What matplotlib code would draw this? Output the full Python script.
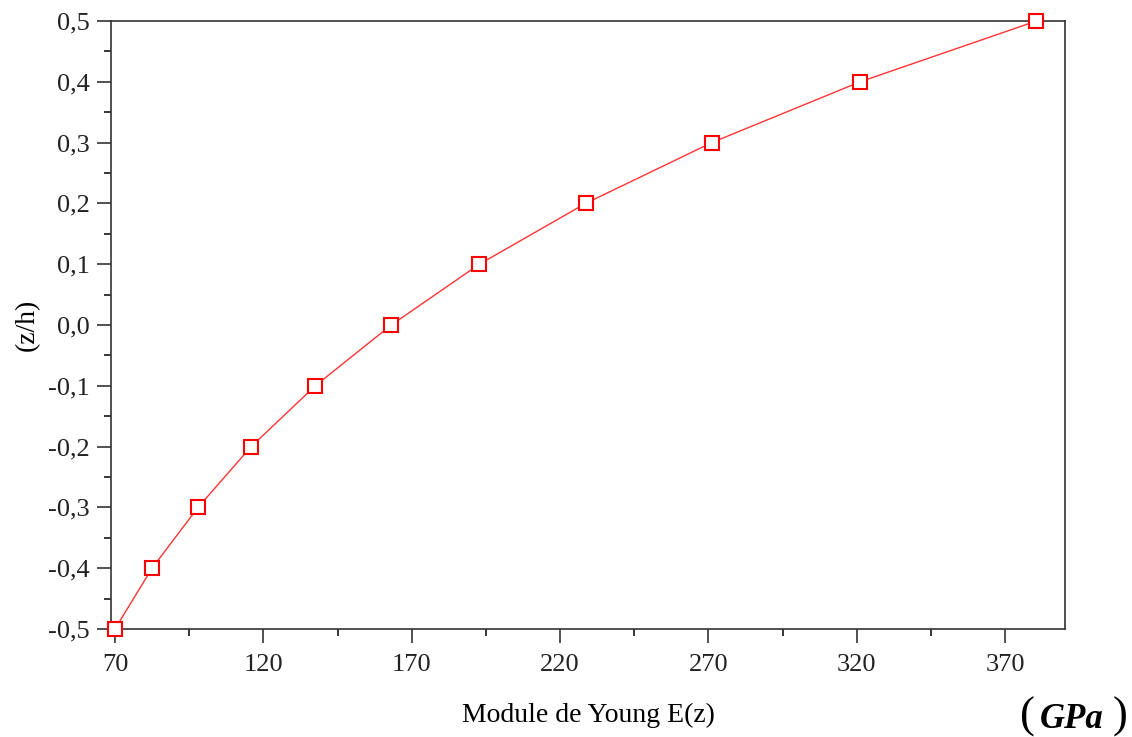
import numpy as np
import matplotlib.pyplot as plt
from matplotlib.ticker import MultipleLocator, FuncFormatter

# donnees
z_h = [-0.5, -0.4, -0.3, -0.2, -0.1, 0.0, 0.1, 0.2, 0.3, 0.4, 0.5]
E_z = [70.0, 82.5, 98.0, 115.9, 137.5, 163.1, 192.8, 228.6, 271.1, 321.1, 380.5]

plt.rcParams['font.family'] = ['Liberation Serif', 'DejaVu Serif']

fig = plt.figure(figsize=(11.32, 7.37), dpi=100)
ax = fig.add_axes([0.098, 0.1465, 0.843, 0.825])

ax.plot(E_z, z_h, color='#ff3333', lw=1.0, marker='s', markersize=10,
        markerfacecolor='white', markeredgecolor='red', markeredgewidth=1.5,
        clip_on=False, zorder=5)

ax.set_xlim(68.65, 390.2)
ax.set_ylim(-0.5, 0.5)

ax.xaxis.set_major_locator(MultipleLocator(50, offset=20))
ax.xaxis.set_minor_locator(MultipleLocator(25, offset=20))
ax.yaxis.set_major_locator(MultipleLocator(0.1))
ax.yaxis.set_minor_locator(MultipleLocator(0.05))

ax.yaxis.set_major_formatter(FuncFormatter(lambda v, p: f"{v:.1f}".replace('.', ',').replace('-0,0', '0,0')))
ax.xaxis.set_major_formatter(FuncFormatter(lambda v, p: f"{v:.0f}"))

ax.tick_params(which='major', direction='out', length=10, width=1.1, labelsize=19,
               top=False, right=False, colors='#222222')
ax.tick_params(axis='x', which='major', pad=8)
ax.tick_params(axis='y', which='major', pad=5)
ax.tick_params(which='minor', direction='out', length=5, width=1.1, top=False, right=False)
for s in ax.spines.values():
    s.set_linewidth(1.2)
    s.set_color('#333333')

ax.set_xlabel("Module de Young E(z)", fontsize=20, labelpad=19)
ax.set_ylabel("(z/h)", fontsize=20, labelpad=6)

# unite (GPa) en bas a droite
fig.text(1020 / 1132, 9 / 737, "(", fontsize=32, ha='left', va='baseline')
fig.text(1040 / 1132, 9 / 737, "GPa", fontsize=25, fontweight='bold', fontstyle='italic',
         ha='left', va='baseline')
fig.text(1113 / 1132, 9 / 737, ")", fontsize=32, ha='left', va='baseline')

fig.savefig("out.png", dpi=100)
